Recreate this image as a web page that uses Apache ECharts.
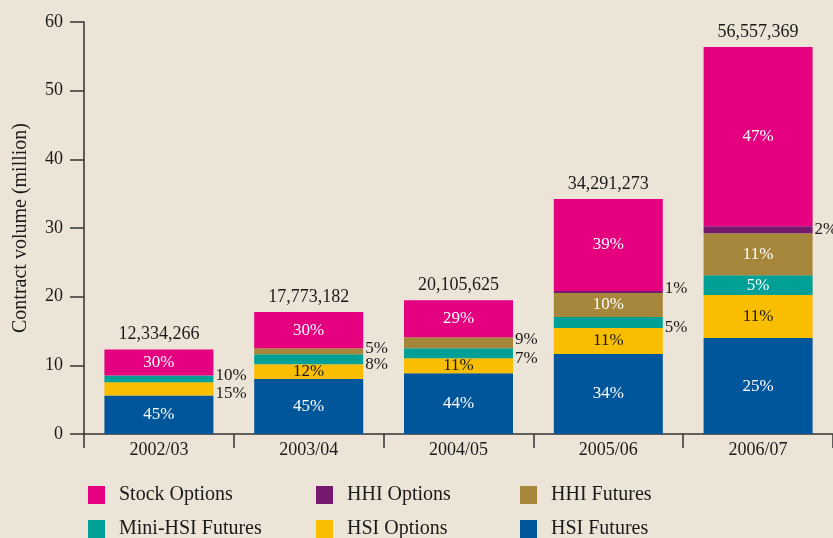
<!DOCTYPE html>
<html>
<head>
<meta charset="utf-8">
<script src="https://cdn.jsdelivr.net/npm/echarts@6/dist/echarts.min.js"></script>
<style>
  html, body { margin: 0; padding: 0; background: #ece4d6; }
  #chart { width: 833px; height: 538px; }
</style>
</head>
<body>
<div id="chart"></div>
<script>
// categories and stacked values (million contracts), bottom to top
const categories = ['2002/03', '2003/04', '2004/05', '2005/06', '2006/07'];
const hsiFutures = [5.62, 8.0, 8.86, 11.65, 13.97];
const hsiOptions = [1.9, 2.17, 2.18, 3.78, 6.26];
const miniHsiFutures = [1.0, 1.45, 1.45, 1.62, 2.9];
const hhiFutures = [0, 0.88, 1.6, 3.48, 6.1];
const hhiOptions = [0, 0, 0, 0.3, 1.02];
const stockOptions = [3.78, 5.25, 5.4, 13.4, 26.1];

// label texts
const totals = ['12,334,266', '17,773,182', '20,105,625', '34,291,273', '56,557,369'];
const pctHsiFutures = ['45%', '45%', '44%', '34%', '25%'];
const pctHsiOptions = ['15%', '12%', '11%', '11%', '11%'];
const pctMiniHsi = ['10%', '8%', '7%', '5%', '5%'];
const pctHhiFutures = ['', '5%', '9%', '10%', '11%'];
const pctHhiOptions = ['', '', '', '1%', '2%'];
const pctStockOptions = ['30%', '30%', '29%', '39%', '47%'];

const FONT = '"Liberation Serif", "DejaVu Serif", serif';

const stackDefs = [
  { name: 'HSI Futures', color: '#00569a', values: hsiFutures, pct: pctHsiFutures, text: '#ffffff' },
  { name: 'HSI Options', color: '#f9be00', values: hsiOptions, pct: pctHsiOptions, text: '#1a1a1a' },
  { name: 'Mini-HSI Futures', color: '#00a096', values: miniHsiFutures, pct: pctMiniHsi, text: '#ffffff' },
  { name: 'HHI Futures', color: '#a6863a', values: hhiFutures, pct: pctHhiFutures, text: '#ffffff' },
  { name: 'HHI Options', color: '#761a6f', values: hhiOptions, pct: pctHhiOptions, text: '#ffffff' },
  { name: 'Stock Options', color: '#e4007f', values: stockOptions, pct: pctStockOptions, text: '#ffffff' }
];

// small segments get their label outside, on the right
function isOutside(d, i) {
  return d.pct[i] !== '' && d.values[i] < 2;
}

const series = stackDefs.map(function (d, si) {
  const data = d.values.map(function (v, i) {
    const item = { value: v };
    if (d.pct[i] === '') {
      item.label = { show: false };
    } else if (isOutside(d, i)) {
      // push two neighbouring outside labels apart
      let dy = 0;
      const below = stackDefs.slice(0, si).some(function (o) { return isOutside(o, i); });
      const above = stackDefs.slice(si + 1).some(function (o) { return isOutside(o, i); });
      if (below && !above) dy = -3;
      if (above && !below) dy = 5;
      item.label = {
        show: true, position: 'right', distance: 2, offset: [0, dy],
        color: '#1a1a1a', formatter: d.pct[i]
      };
    } else {
      item.label = { show: true, position: 'inside', color: d.text, formatter: d.pct[i] };
    }
    return item;
  });
  return {
    name: d.name,
    type: 'bar',
    stack: 'all',
    barWidth: 109,
    itemStyle: { color: d.color },
    label: { fontFamily: FONT, fontSize: 17 },
    data: data
  };
});

// totals above the bars
series.push({
  name: 'total',
  type: 'bar',
  stack: 'all',
  barWidth: 109,
  data: categories.map(function () { return 0; }),
  itemStyle: { color: 'transparent' },
  label: {
    show: true, position: 'top', distance: 6,
    fontFamily: FONT, fontSize: 18, color: '#1a1a1a',
    formatter: function (p) { return totals[p.dataIndex]; }
  }
});

function legendCol(left, names) {
  return {
    orient: 'vertical',
    left: left,
    top: 485,
    height: 80,
    icon: 'rect',
    itemWidth: 17,
    itemHeight: 18,
    itemGap: 14,
    padding: 0,
    data: names,
    selectedMode: false,
    textStyle: { fontFamily: FONT, fontSize: 20, lineHeight: 18, color: '#1a1a1a', padding: [0, 0, 0, 9] }
  };
}

const chart = echarts.init(document.getElementById('chart'));
chart.setOption({
  animation: false,
  backgroundColor: '#ece4d6',
  grid: { left: 84, right: 0, top: 22, bottom: 104, outerBoundsMode: 'none' },
  legend: [
    legendCol(88, ['Stock Options', 'Mini-HSI Futures']),
    legendCol(316, ['HHI Options', 'HSI Options']),
    legendCol(520, ['HHI Futures', 'HSI Futures'])
  ],
  xAxis: {
    type: 'category',
    data: categories,
    axisLine: { lineStyle: { color: '#333', width: 1.5 } },
    axisTick: { show: true, length: 14, lineStyle: { color: '#333', width: 1.5 } },
    axisLabel: { fontFamily: FONT, fontSize: 18, color: '#1a1a1a', margin: 7 }
  },
  yAxis: {
    type: 'value',
    min: 0,
    max: 60,
    interval: 10,
    name: 'Contract volume (million)',
    nameLocation: 'middle',
    nameGap: 53,
    nameTextStyle: { fontFamily: FONT, fontSize: 20, color: '#1a1a1a' },
    splitLine: { show: false },
    axisLine: { show: true, lineStyle: { color: '#333', width: 1.5 } },
    axisTick: { show: true, length: 14, lineStyle: { color: '#333', width: 1.5 } },
    axisLabel: { fontFamily: FONT, fontSize: 18, color: '#1a1a1a', margin: 21 }
  },
  series: series
});
</script>
</body>
</html>
